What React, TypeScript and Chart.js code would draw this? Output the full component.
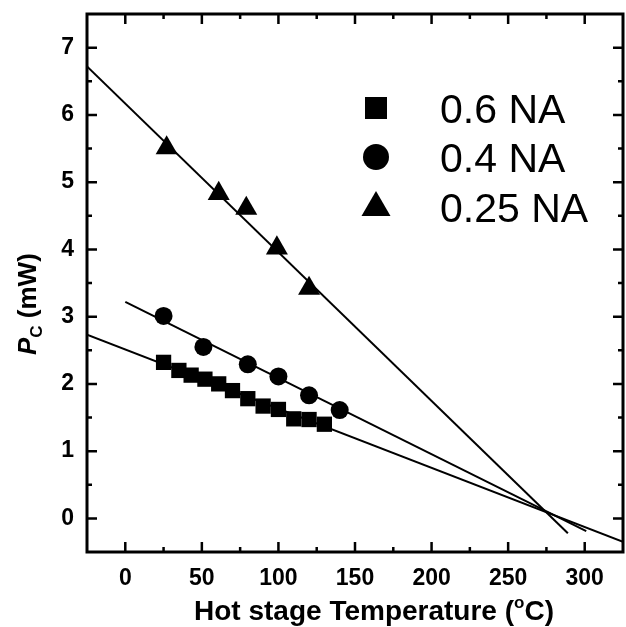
import React, { useEffect, useRef } from 'react';
import { Chart, registerables } from 'chart.js';

Chart.register(...registerables);

// Measured critical power vs. hot stage temperature for three objectives
const squareX = [25, 35, 43, 52, 61, 70, 80, 90, 100, 110, 120, 130];
const squareY = [2.32, 2.2, 2.13, 2.07, 2.0, 1.9, 1.78, 1.67, 1.62, 1.48, 1.47, 1.4];
const circleX = [25, 51, 80, 100, 120, 140];
const circleY = [3.01, 2.55, 2.29, 2.11, 1.83, 1.61];
const triangleX = [27, 61, 79, 99, 120];
const triangleY = [5.51, 4.83, 4.61, 4.02, 3.42];

// Linear fits (end points)
const fit06X = [-25, 325];
const fit06Y = [2.73, -0.35];
const fit04X = [0, 301];
const fit04Y = [3.22, -0.19];
const fit025X = [-25, 289];
const fit025Y = [6.72, -0.22];

const legendLabels = ['0.6 NA', '0.4 NA', '0.25 NA'];

const xMajorTicks = [0, 50, 100, 150, 200, 250, 300];
const xMinorTicks = [25, 75, 125, 175, 225, 275];
const yMajorTicks = [0, 1, 2, 3, 4, 5, 6, 7];
const yMinorTicks = [0.5, 1.5, 2.5, 3.5, 4.5, 5.5, 6.5];

const FONT = '"Liberation Sans", Arial, Helvetica, sans-serif';

const pts = (xs: number[], ys: number[]) => xs.map((x, i) => ({ x, y: ys[i] }));

const framePlugin = {
  id: 'frameAndLegend',
  afterDatasetsDraw(chart: any) {
    const { ctx, chartArea: a, scales } = chart;
    const xs = scales.x;
    const ys = scales.y;
    ctx.save();
    ctx.strokeStyle = '#000';
    ctx.fillStyle = '#000';

    // inward ticks on all four sides
    ctx.lineWidth = 2.5;
    ctx.beginPath();
    const major = 10;
    const minor = 5;
    const xTick = (v: number, len: number) => {
      const px = xs.getPixelForValue(v);
      ctx.moveTo(px, a.bottom);
      ctx.lineTo(px, a.bottom - len);
      ctx.moveTo(px, a.top);
      ctx.lineTo(px, a.top + len);
    };
    const yTick = (v: number, len: number) => {
      const py = ys.getPixelForValue(v);
      ctx.moveTo(a.left, py);
      ctx.lineTo(a.left + len, py);
      ctx.moveTo(a.right, py);
      ctx.lineTo(a.right - len, py);
    };
    xMajorTicks.forEach((v) => xTick(v, major));
    xMinorTicks.forEach((v) => xTick(v, minor));
    yMajorTicks.forEach((v) => yTick(v, major));
    yMinorTicks.forEach((v) => yTick(v, minor));
    ctx.stroke();

    // frame
    ctx.lineWidth = 3;
    ctx.strokeRect(a.left, a.top, a.right - a.left, a.bottom - a.top);

    // legend
    const mx = a.left + 289;
    const rows = [a.top + 94, a.top + 143, a.top + 193];
    ctx.fillRect(mx - 11, rows[0] - 11, 22, 22);
    ctx.beginPath();
    ctx.arc(mx, rows[1], 13, 0, Math.PI * 2);
    ctx.fill();
    ctx.beginPath();
    ctx.moveTo(mx, rows[2] - 16);
    ctx.lineTo(mx + 14.5, rows[2] + 9);
    ctx.lineTo(mx - 14.5, rows[2] + 9);
    ctx.closePath();
    ctx.fill();

    ctx.font = `41px ${FONT}`;
    ctx.textAlign = 'left';
    ctx.textBaseline = 'alphabetic';
    legendLabels.forEach((t, i) => {
      ctx.fillText(t, a.left + 353, rows[i] + 14.5);
    });

    // x axis title with superscript degree mark
    const titleFont = `bold 28px ${FONT}`;
    const supFont = `bold 17px ${FONT}`;
    const part1 = 'Hot stage Temperature (';
    const part2 = 'o';
    const part3 = 'C)';
    ctx.font = titleFont;
    const w1 = ctx.measureText(part1).width;
    ctx.font = supFont;
    const w2 = ctx.measureText(part2).width;
    ctx.font = titleFont;
    const w3 = ctx.measureText(part3).width;
    const total = w1 + w2 + w3;
    const cx = 374;
    const by = 620;
    let sx = cx - total / 2;
    ctx.fillText(part1, sx, by);
    sx += w1;
    ctx.font = supFont;
    ctx.fillText(part2, sx, by - 12);
    sx += w2;
    ctx.font = titleFont;
    ctx.fillText(part3, sx, by);

    // y axis title: italic P with subscript C
    ctx.translate(36, 355);
    ctx.rotate(-Math.PI / 2);
    ctx.font = `italic bold 26px ${FONT}`;
    ctx.fillText('P', 0, 0);
    let tx = ctx.measureText('P').width;
    ctx.font = `bold 17px ${FONT}`;
    ctx.fillText('C', tx, 6);
    tx += ctx.measureText('C').width;
    ctx.font = `bold 26px ${FONT}`;
    ctx.fillText(' (mW)', tx, 0);

    ctx.restore();
  },
};

const noPadding = (s: any) => {
  s.paddingTop = 0;
  s.paddingBottom = 0;
  s.paddingLeft = 0;
  s.paddingRight = 0;
};

export default function App() {
  const ref = useRef<HTMLCanvasElement | null>(null);

  useEffect(() => {
    if (!ref.current) return;
    const tickFont = { family: FONT, size: 23, weight: 'bold' as const };
    const markerStyle = {
      pointBackgroundColor: '#000',
      pointBorderColor: '#000',
      pointBorderWidth: 0,
      showLine: false,
    };
    const lineStyle = {
      showLine: true,
      pointRadius: 0,
      borderColor: '#000',
      borderWidth: 2,
      fill: false,
    };
    const chart = new Chart(ref.current, {
      type: 'scatter',
      data: {
        datasets: [
          { label: '0.6 NA fit', data: pts(fit06X, fit06Y), ...lineStyle },
          { label: '0.4 NA fit', data: pts(fit04X, fit04Y), ...lineStyle },
          { label: '0.25 NA fit', data: pts(fit025X, fit025Y), ...lineStyle },
          { label: legendLabels[0], data: pts(squareX, squareY), pointStyle: 'rect', pointRadius: 10.8, ...markerStyle },
          { label: legendLabels[1], data: pts(circleX, circleY), pointStyle: 'circle', pointRadius: 9, ...markerStyle },
          { label: legendLabels[2], data: pts(triangleX, triangleY), pointStyle: 'triangle', pointRadius: 12.7, ...markerStyle },
        ] as any,
      },
      options: {
        animation: false,
        responsive: false,
        layout: { autoPadding: false, padding: { top: 14, right: 3, left: 0, bottom: 0 } },
        plugins: { legend: { display: false }, tooltip: { enabled: false } },
        scales: {
          x: {
            type: 'linear',
            min: -25,
            max: 325,
            afterBuildTicks: (s: any) => {
              s.ticks = xMajorTicks.map((v) => ({ value: v }));
            },
            afterFit: (s: any) => {
              s.height = 75;
              noPadding(s);
            },
            grid: { display: false, drawTicks: false },
            border: { display: false },
            ticks: { padding: 13, color: '#000', font: tickFont, maxRotation: 0 },
          },
          y: {
            type: 'linear',
            min: -0.5,
            max: 7.5,
            afterBuildTicks: (s: any) => {
              s.ticks = yMajorTicks.map((v) => ({ value: v }));
            },
            afterFit: (s: any) => {
              s.width = 87;
              noPadding(s);
            },
            grid: { display: false, drawTicks: false },
            border: { display: false },
            ticks: { padding: 13, color: '#000', font: tickFont },
          },
        },
      } as any,
      plugins: [framePlugin],
    });
    return () => chart.destroy();
  }, []);

  return (
    <div style={{ position: 'absolute', left: 0, top: 0, width: 626, height: 627, background: '#fff' }}>
      <canvas ref={ref} width={626} height={627} style={{ display: 'block' }} />
    </div>
  );
}
